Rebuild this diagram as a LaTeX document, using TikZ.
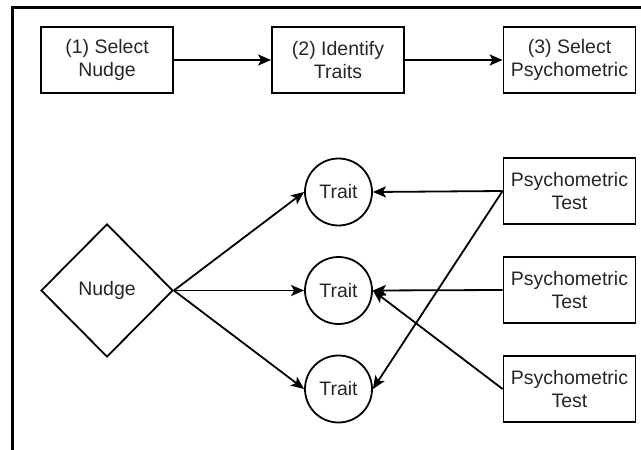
\documentclass[tikz,border=0pt]{standalone}
\usepackage{fontspec}
\setmainfont{Liberation Sans}
\usetikzlibrary{arrows.meta,shapes.geometric}
\begin{document}
\begin{tikzpicture}[x=1pt,y=-1pt,
  lbl/.style={font=\fontsize{19.5}{23}\selectfont, text=black!85},
  box/.style={lbl, draw, line width=1.8pt, minimum width=132pt, minimum height=66pt, align=center, inner sep=0pt},
  trait/.style={lbl, draw, circle, line width=1.8pt, minimum size=67pt, inner sep=0pt},
  dia/.style={lbl, draw, diamond, line width=1.8pt, minimum width=132pt, minimum height=133pt, inner sep=0pt},
  conn/.style={line width=1.8pt, -{Stealth[length=13pt,width=11pt,inset=3pt]}},
  frame/.style={line width=3pt}
]
\useasboundingbox (0,0) rectangle (641,450);
\coordinate (fa) at (641,7);
\coordinate (fb) at (12,7);
\coordinate (fc) at (12,450);
\draw[frame] (fa) -- (fb) -- (fc);

\node[box] (s1) at (107,60) {(1) Select\\Nudge};
\node[box] (s2) at (338,60) {(2) Identify\\Traits};
\node[box] (s3) at (569.5,60) {(3) Select\\Psychometric};

\node[dia] (n) at (107,290.5) {Nudge};
\node[trait] (t1) at (338.5,192) {Trait};
\node[trait] (t2) at (338.5,290.5) {Trait};
\node[trait] (t3) at (338.5,389) {Trait};

\node[box] (p1) at (569.5,191) {Psychometric\\Test};
\node[box] (p2) at (569.5,290) {Psychometric\\Test};
\node[box] (p3) at (569.5,389) {Psychometric\\Test};

\draw[conn] (s1.east) -- (s2.west);
\draw[conn] (s2.east) -- (s3.west);

\draw[conn] (n.east) -- (t1.west);
\draw[conn] (n.east) -- (t2.west);
\draw[conn] (n.east) -- (t3.west);

\draw[conn] (p1.west) -- (t1.east);
\draw[conn] (p1.west) -- (t3.east);
\draw[conn] (p2.west) -- (t2.east);
\draw[conn] (p3.west) -- (t2.east);
\end{tikzpicture}
\end{document}
